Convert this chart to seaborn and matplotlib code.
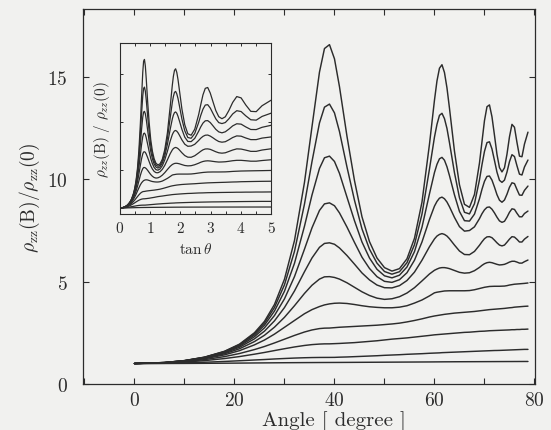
import numpy as np
import pandas as pd
import seaborn as sns
import matplotlib.pyplot as plt
from matplotlib.ticker import MultipleLocator, NullFormatter

# angle grid (degree) shared by all curves
angle = [0, 6, 10, 14, 18, 21, 24, 26, 28, 30,
         32, 34, 35.5, 37, 38, 39, 40, 41, 42.5, 44,
         45.5, 47, 48.5, 50, 51.5, 53, 54.5, 56, 57.5, 59,
         60, 60.5, 61, 61.5, 62, 62.5, 63, 64, 65, 66,
         67, 68, 69, 69.5, 70, 70.5, 71, 71.5, 72, 72.5,
         73, 73.5, 74, 74.5, 75, 75.5, 76, 76.5, 77, 77.5,
         78, 78.7]

# rho_zz(B)/rho_zz(0), highest field first
rho_1 = [1.00, 1.048, 1.143, 1.311, 1.597, 1.945, 2.503, 3.057, 3.882, 5.115,
         7.00, 9.84, 12.55, 15.22, 16.37, 16.56, 15.87, 14.51, 12.09, 9.93,
         8.16, 6.95, 6.15, 5.68, 5.51, 5.63, 6.11, 7.11, 8.87, 11.70,
         13.85, 14.79, 15.41, 15.58, 15.20, 14.45, 13.46, 11.36, 9.72, 8.77,
         8.62, 9.25, 10.78, 11.82, 12.85, 13.53, 13.62, 13.04, 12.14, 11.21,
         10.56, 10.35, 10.55, 11.21, 12.06, 12.67, 12.53, 11.79, 11.12, 11.09,
         11.71, 12.29]
rho_2 = [1.00, 1.048, 1.141, 1.305, 1.585, 1.921, 2.453, 2.974, 3.735, 4.843,
         6.47, 8.78, 10.85, 12.74, 13.51, 13.66, 13.23, 12.32, 10.59, 8.97,
         7.57, 6.58, 5.90, 5.49, 5.36, 5.48, 5.92, 6.80, 8.29, 10.49,
         12.05, 12.67, 13.11, 13.21, 12.95, 12.47, 11.78, 10.31, 9.09, 8.38,
         8.30, 8.80, 9.96, 10.70, 11.35, 11.78, 11.82, 11.47, 10.91, 10.34,
         9.94, 9.84, 9.95, 10.34, 10.85, 11.19, 11.10, 10.65, 10.24, 10.20,
         10.59, 10.93]
rho_3 = [1.00, 1.047, 1.138, 1.298, 1.568, 1.889, 2.391, 2.872, 3.560, 4.529,
         5.89, 7.70, 9.22, 10.52, 11.04, 11.12, 10.86, 10.28, 9.12, 7.97,
         6.93, 6.15, 5.60, 5.28, 5.18, 5.31, 5.71, 6.46, 7.65, 9.28,
         10.32, 10.72, 10.99, 11.06, 10.92, 10.60, 10.17, 9.23, 8.42, 7.97,
         7.95, 8.29, 9.04, 9.50, 9.89, 10.13, 10.15, 9.95, 9.61, 9.24,
         8.97, 8.87, 8.98, 9.26, 9.60, 9.82, 9.78, 9.49, 9.22, 9.21,
         9.45, 9.66]
rho_4 = [1.00, 1.045, 1.134, 1.288, 1.546, 1.847, 2.309, 2.741, 3.342, 4.156,
         5.24, 6.58, 7.62, 8.47, 8.79, 8.84, 8.70, 8.35, 7.66, 6.91,
         6.19, 5.64, 5.24, 5.01, 4.96, 5.09, 5.43, 6.04, 6.93, 8.03,
         8.68, 8.91, 9.07, 9.12, 9.04, 8.88, 8.65, 8.13, 7.68, 7.46,
         7.49, 7.67, 8.07, 8.31, 8.50, 8.62, 8.64, 8.53, 8.35, 8.14,
         7.96, 7.89, 7.94, 8.14, 8.38, 8.55, 8.52, 8.33, 8.16, 8.16,
         8.32, 8.44]
rho_5 = [1.00, 1.044, 1.128, 1.275, 1.516, 1.792, 2.205, 2.579, 3.082, 3.731,
         4.54, 5.48, 6.15, 6.67, 6.86, 6.89, 6.82, 6.64, 6.27, 5.85,
         5.42, 5.08, 4.83, 4.70, 4.69, 4.80, 5.05, 5.46, 6.04, 6.70,
         7.08, 7.22, 7.30, 7.34, 7.30, 7.22, 7.09, 6.78, 6.49, 6.32,
         6.31, 6.47, 6.77, 6.94, 7.09, 7.18, 7.19, 7.14, 7.02, 6.89,
         6.78, 6.74, 6.78, 6.92, 7.07, 7.19, 7.17, 7.06, 6.93, 6.93,
         7.07, 7.20]
rho_6 = [1.00, 1.041, 1.121, 1.256, 1.475, 1.720, 2.072, 2.379, 2.774, 3.256,
         3.82, 4.42, 4.82, 5.12, 5.23, 5.24, 5.20, 5.12, 4.94, 4.72,
         4.50, 4.32, 4.19, 4.13, 4.16, 4.26, 4.44, 4.70, 5.03, 5.37,
         5.55, 5.61, 5.66, 5.68, 5.68, 5.66, 5.63, 5.54, 5.45, 5.41,
         5.43, 5.53, 5.69, 5.79, 5.87, 5.92, 5.94, 5.92, 5.88, 5.84,
         5.81, 5.82, 5.84, 5.89, 5.95, 5.99, 5.99, 5.95, 5.90, 5.90,
         5.97, 6.05]
rho_7 = [1.00, 1.038, 1.110, 1.232, 1.422, 1.628, 1.911, 2.146, 2.435, 2.767,
         3.10, 3.43, 3.63, 3.78, 3.86, 3.91, 3.94, 3.95, 3.93, 3.88,
         3.82, 3.77, 3.74, 3.72, 3.72, 3.75, 3.82, 3.95, 4.10, 4.30,
         4.45, 4.48, 4.50, 4.52, 4.54, 4.545, 4.55, 4.55, 4.55, 4.55,
         4.56, 4.60, 4.66, 4.69, 4.72, 4.74, 4.76, 4.765, 4.77, 4.77,
         4.77, 4.775, 4.78, 4.80, 4.83, 4.85, 4.87, 4.88, 4.89, 4.90,
         4.91, 4.93]
rho_8 = [1.00, 1.032, 1.092, 1.190, 1.337, 1.488, 1.681, 1.831, 2.004, 2.187,
         2.371, 2.538, 2.638, 2.705, 2.726, 2.731, 2.75, 2.77, 2.79, 2.81,
         2.83, 2.85, 2.87, 2.90, 2.93, 2.97, 3.03, 3.10, 3.18, 3.27,
         3.32, 3.34, 3.36, 3.38, 3.40, 3.415, 3.43, 3.46, 3.48, 3.50,
         3.52, 3.54, 3.57, 3.585, 3.60, 3.615, 3.63, 3.64, 3.65, 3.66,
         3.67, 3.68, 3.69, 3.705, 3.72, 3.73, 3.75, 3.76, 3.77, 3.78,
         3.79, 3.80]
rho_9 = [1.00, 1.025, 1.070, 1.141, 1.242, 1.339, 1.456, 1.540, 1.632, 1.722,
         1.808, 1.881, 1.923, 1.949, 1.959, 1.960, 1.97, 1.98, 2.00, 2.02,
         2.05, 2.08, 2.11, 2.15, 2.19, 2.22, 2.25, 2.29, 2.33, 2.37,
         2.40, 2.41, 2.42, 2.43, 2.44, 2.45, 2.46, 2.48, 2.50, 2.52,
         2.53, 2.55, 2.57, 2.575, 2.58, 2.59, 2.60, 2.605, 2.61, 2.615,
         2.62, 2.625, 2.63, 2.635, 2.64, 2.65, 2.65, 2.66, 2.66, 2.67,
         2.67, 2.68]
rho_10 = [1.00, 1.011, 1.032, 1.062, 1.101, 1.135, 1.172, 1.195, 1.222, 1.245,
          1.266, 1.282, 1.291, 1.296, 1.297, 1.298, 1.30, 1.31, 1.32, 1.335,
          1.35, 1.365, 1.38, 1.40, 1.415, 1.43, 1.45, 1.465, 1.48, 1.50,
          1.51, 1.515, 1.52, 1.53, 1.535, 1.54, 1.545, 1.555, 1.565, 1.575,
          1.585, 1.595, 1.605, 1.61, 1.615, 1.62, 1.625, 1.63, 1.635, 1.637,
          1.64, 1.645, 1.65, 1.655, 1.66, 1.665, 1.67, 1.675, 1.68, 1.685,
          1.69, 1.69]
rho_11 = [1.00, 1.002, 1.005, 1.01, 1.016, 1.021, 1.027, 1.031, 1.035, 1.039,
          1.042, 1.045, 1.047, 1.049, 1.05, 1.051, 1.052, 1.053, 1.055, 1.057,
          1.059, 1.061, 1.063, 1.065, 1.067, 1.069, 1.071, 1.073, 1.075, 1.077,
          1.079, 1.080, 1.081, 1.082, 1.083, 1.0835, 1.084, 1.086, 1.087, 1.088,
          1.089, 1.09, 1.091, 1.0915, 1.092, 1.0925, 1.093, 1.0935, 1.094, 1.0945,
          1.095, 1.0955, 1.096, 1.0965, 1.097, 1.097, 1.098, 1.098, 1.099, 1.099,
          1.10, 1.10]

curves = [rho_1, rho_2, rho_3, rho_4, rho_5, rho_6,
          rho_7, rho_8, rho_9, rho_10, rho_11]

rows = []
for i, vals in enumerate(curves):
    for a, v in zip(angle, vals):
        rows.append((i, a, v))
df = pd.DataFrame(rows, columns=['curve', 'angle', 'rho'])
df['tan'] = np.tan(np.radians(df['angle']))

bg = '#f1f1ef'
ink = '#2c2c2c'

sns.set_theme(style='ticks')
plt.rcParams['font.family'] = 'serif'
plt.rcParams['font.serif'] = ['cmr10', 'DejaVu Serif']
plt.rcParams['mathtext.fontset'] = 'cm'
plt.rcParams['axes.formatter.use_mathtext'] = True
plt.rcParams['axes.edgecolor'] = ink
plt.rcParams['xtick.color'] = ink
plt.rcParams['ytick.color'] = ink
plt.rcParams['text.color'] = ink
plt.rcParams['axes.labelcolor'] = ink

fig = plt.figure(figsize=(5.51, 4.31), dpi=100, facecolor=bg)

# main plot
ax = fig.add_axes([0.1506, 0.1067, 0.8203, 0.8701])
ax.set_facecolor(bg)
sns.lineplot(data=df, x='angle', y='rho', units='curve', estimator=None,
             color=ink, lw=1.05, ax=ax, legend=False)
ax.set_xlim(-10.3, 80.1)
ax.set_ylim(0, 18.3)
ax.xaxis.set_major_locator(MultipleLocator(20))
ax.xaxis.set_minor_locator(MultipleLocator(10))
ax.yaxis.set_major_locator(MultipleLocator(5))
ax.tick_params(which='both', direction='in', top=True, right=True,
               length=4.5, width=0.8)
ax.tick_params(axis='x', labelsize=14, pad=5)
ax.tick_params(axis='y', labelsize=14, pad=11)
for s in ax.spines.values():
    s.set_linewidth(0.9)
ax.set_xlabel('Angle [ degree ]', fontsize=15)
ax.xaxis.set_label_coords(0.556, -0.071)
ax.set_ylabel(r'$\rho_{\mathrm{zz}}(\mathrm{B})/\rho_{\mathrm{zz}}(0)$', fontsize=14)
ax.yaxis.set_label_coords(-0.09, 0.5)

# inset: same curves against tan(theta)
ins = fig.add_axes([0.2178, 0.5012, 0.274, 0.3967])
ins.set_facecolor(bg)
sns.lineplot(data=df, x='tan', y='rho', units='curve', estimator=None,
             color=ink, lw=0.9, ax=ins, legend=False)
ins.set_xlim(0, 5)
ins.set_ylim(0.37, 18.28)
ins.xaxis.set_major_locator(MultipleLocator(1))
ins.xaxis.set_minor_locator(MultipleLocator(0.5))
ins.yaxis.set_major_locator(MultipleLocator(5))
ins.yaxis.set_major_formatter(NullFormatter())
ins.tick_params(which='both', direction='in', top=True, right=True,
                length=2.2, width=0.7)
ins.tick_params(axis='x', labelsize=11, pad=4)
for s in ins.spines.values():
    s.set_linewidth(0.8)
ins.set_xlabel(r'$\tan\theta$', fontsize=11, labelpad=5)
ins.set_ylabel(r'$\rho_{zz}(\mathrm{B})\ /\ \rho_{zz}(0)$', fontsize=11, labelpad=2)

fig.savefig('out.png', dpi=100, facecolor=bg)
